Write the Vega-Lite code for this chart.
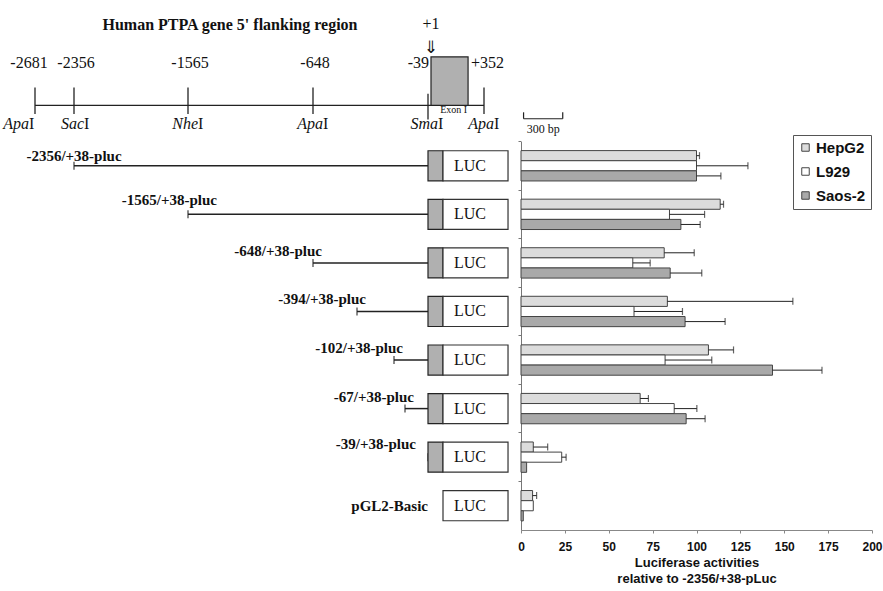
{
  "$schema": "https://vega.github.io/schema/vega-lite/v6.json",
  "width": 883,
  "height": 530,
  "padding": 0,
  "autosize": {"type": "pad"},
  "background": "white",
  "config": {"view": {"stroke": null}, "text": {"font": "Liberation Serif", "color": "#111"}},
  "datasets": {
    "sites": [
      {"pos": -2681, "label": "-2681", "enzyme": "Apa"},
      {"pos": -2356, "label": "-2356", "enzyme": "Sac"},
      {"pos": -1565, "label": "-1565", "enzyme": "Nhe"},
      {"pos": -648, "label": "-648", "enzyme": "Apa"},
      {"pos": -39, "label": "-39", "enzyme": "Sma"},
      {"pos": 352, "label": "+352", "enzyme": "Apa"}
    ],
    "constructs": [
      {"construct": "-2356/+38-pluc", "start": -2356},
      {"construct": "-1565/+38-pluc", "start": -1565},
      {"construct": "-648/+38-pluc", "start": -648},
      {"construct": "-394/+38-pluc", "start": -394},
      {"construct": "-102/+38-pluc", "start": -102},
      {"construct": "-67/+38-pluc", "start": -67},
      {"construct": "-39/+38-pluc", "start": -39},
      {"construct": "pGL2-Basic", "start": null}
    ],
    "activity": [
      {"construct": "-2356/+38-pluc", "cell": "HepG2", "value": 100, "upper": 101.7},
      {"construct": "-2356/+38-pluc", "cell": "L929", "value": 100, "upper": 129.3},
      {"construct": "-2356/+38-pluc", "cell": "Saos-2", "value": 100, "upper": 113.9},
      {"construct": "-1565/+38-pluc", "cell": "HepG2", "value": 113.5, "upper": 115.4},
      {"construct": "-1565/+38-pluc", "cell": "L929", "value": 84.6, "upper": 104.6},
      {"construct": "-1565/+38-pluc", "cell": "Saos-2", "value": 91.1, "upper": 102.1},
      {"construct": "-648/+38-pluc", "cell": "HepG2", "value": 81.6, "upper": 98.7},
      {"construct": "-648/+38-pluc", "cell": "L929", "value": 63.7, "upper": 73.6},
      {"construct": "-648/+38-pluc", "cell": "Saos-2", "value": 85, "upper": 103},
      {"construct": "-394/+38-pluc", "cell": "HepG2", "value": 83.4, "upper": 154.9},
      {"construct": "-394/+38-pluc", "cell": "L929", "value": 64.4, "upper": 92},
      {"construct": "-394/+38-pluc", "cell": "Saos-2", "value": 93.5, "upper": 116.3},
      {"construct": "-102/+38-pluc", "cell": "HepG2", "value": 106.8, "upper": 121.1},
      {"construct": "-102/+38-pluc", "cell": "L929", "value": 82.1, "upper": 108.7},
      {"construct": "-102/+38-pluc", "cell": "Saos-2", "value": 143.3, "upper": 171.5},
      {"construct": "-67/+38-pluc", "cell": "HepG2", "value": 67.9, "upper": 72.6},
      {"construct": "-67/+38-pluc", "cell": "L929", "value": 87.3, "upper": 100.2},
      {"construct": "-67/+38-pluc", "cell": "Saos-2", "value": 94.1, "upper": 104.9},
      {"construct": "-39/+38-pluc", "cell": "HepG2", "value": 7.0, "upper": 15.2},
      {"construct": "-39/+38-pluc", "cell": "L929", "value": 23.2, "upper": 25.7},
      {"construct": "-39/+38-pluc", "cell": "Saos-2", "value": 3.2, "upper": null},
      {"construct": "pGL2-Basic", "cell": "HepG2", "value": 6.6, "upper": 8.9},
      {"construct": "pGL2-Basic", "cell": "L929", "value": 7.0, "upper": null},
      {"construct": "pGL2-Basic", "cell": "Saos-2", "value": 1.3, "upper": null}
    ]
  },
  "resolve": {"scale": {"x": "independent", "y": "independent"}},
  "layer": [
    {
      "layer": [
        {
          "data": {"values": [{"from": -2681, "to": 352}]},
          "mark": {"type": "rule", "stroke": "#222", "strokeWidth": 1.3},
          "encoding": {
            "x": {"field": "from", "type": "quantitative", "axis": null,
                  "scale": {"type": "linear", "domain": [-2681, -2356, -1565, -648, -394, -102, -67, -39, 1, 38, 352], "range": [35, 74, 188, 313, 357, 394, 405, 428, 431, 443, 484], "nice": false, "zero": false}},
            "x2": {"field": "to"},
            "y": {"datum": -0.741, "type": "quantitative", "axis": null,
                  "scale": {"domain": [-2.912, 8], "reverse": true, "nice": false, "zero": false}}
          }
        },
        {
          "data": {"name": "sites"},
          "transform": [{"filter": "datum.enzyme != 'Sma'"}],
          "mark": {"type": "rule", "stroke": "#222", "strokeWidth": 1.3},
          "encoding": {
            "x": {"field": "pos", "type": "quantitative"},
            "y": {"datum": -1.111, "type": "quantitative"},
            "y2": {"datum": -0.566}
          }
        },
        {
          "data": {"name": "sites"},
          "transform": [{"filter": "datum.enzyme == 'Sma'"}],
          "mark": {"type": "rule", "stroke": "#222", "strokeWidth": 1.3},
          "encoding": {
            "x": {"field": "pos", "type": "quantitative"},
            "y": {"datum": -0.98, "type": "quantitative"},
            "y2": {"datum": -0.45}
          }
        },
        {
          "data": {"values": [{"name": "Exon I", "from": 1, "to": 230}]},
          "mark": {"type": "rect", "fill": "#b0b0b0", "stroke": "#222", "strokeWidth": 1.2},
          "encoding": {
            "x": {"field": "from", "type": "quantitative"},
            "x2": {"field": "to"},
            "y": {"datum": -1.739, "type": "quantitative"},
            "y2": {"datum": -0.741}
          }
        },
        {
          "data": {"values": [{"name": "Exon I", "from": 1, "to": 230}]},
          "mark": {"type": "text", "fontSize": 10, "baseline": "middle", "align": "center"},
          "encoding": {
            "x": {"datum": 120, "type": "quantitative"},
            "y": {"datum": -0.655, "type": "quantitative"},
            "text": {"field": "name"}
          }
        },
        {
          "data": {"name": "sites"},
          "transform": [{"filter": "datum.pos != -39 && datum.pos != -2681 && datum.pos != 352"}],
          "mark": {"type": "text", "fontSize": 16, "baseline": "middle", "align": "center", "dx": 2},
          "encoding": {
            "x": {"field": "pos", "type": "quantitative"},
            "y": {"datum": -1.616, "type": "quantitative"},
            "text": {"field": "label"}
          }
        },
        {
          "data": {"name": "sites"},
          "transform": [{"filter": "datum.pos == -2681"}],
          "mark": {"type": "text", "fontSize": 16, "baseline": "middle", "align": "center", "dx": -6},
          "encoding": {
            "x": {"field": "pos", "type": "quantitative"},
            "y": {"datum": -1.616, "type": "quantitative"},
            "text": {"field": "label"}
          }
        },
        {
          "data": {"name": "sites"},
          "transform": [{"filter": "datum.pos == 352"}],
          "mark": {"type": "text", "fontSize": 16, "baseline": "middle", "align": "left", "dx": -13},
          "encoding": {
            "x": {"field": "pos", "type": "quantitative"},
            "y": {"datum": -1.616, "type": "quantitative"},
            "text": {"field": "label"}
          }
        },
        {
          "data": {"name": "sites"},
          "transform": [{"filter": "datum.pos == -39"}],
          "mark": {"type": "text", "fontSize": 16, "baseline": "middle", "align": "right", "dx": 1},
          "encoding": {
            "x": {"field": "pos", "type": "quantitative"},
            "y": {"datum": -1.616, "type": "quantitative"},
            "text": {"field": "label"}
          }
        },
        {
          "data": {"name": "sites"},
          "transform": [{"filter": "datum.pos != -2681"}],
          "mark": {"type": "text", "fontSize": 16, "baseline": "middle", "align": "right", "dx": 10, "fontStyle": "italic"},
          "encoding": {
            "x": {"field": "pos", "type": "quantitative"},
            "y": {"datum": -0.36, "type": "quantitative"},
            "text": {"field": "enzyme"}
          }
        },
        {
          "data": {"name": "sites"},
          "transform": [{"filter": "datum.pos != -2681"}],
          "mark": {"type": "text", "fontSize": 16, "baseline": "middle", "align": "left", "dx": 10},
          "encoding": {
            "x": {"field": "pos", "type": "quantitative"},
            "y": {"datum": -0.36, "type": "quantitative"},
            "text": {"value": "I"}
          }
        },
        {
          "data": {"name": "sites"},
          "transform": [{"filter": "datum.pos == -2681"}],
          "mark": {"type": "text", "fontSize": 16, "baseline": "middle", "align": "right", "dx": -6, "fontStyle": "italic"},
          "encoding": {
            "x": {"field": "pos", "type": "quantitative"},
            "y": {"datum": -0.36, "type": "quantitative"},
            "text": {"field": "enzyme"}
          }
        },
        {
          "data": {"name": "sites"},
          "transform": [{"filter": "datum.pos == -2681"}],
          "mark": {"type": "text", "fontSize": 16, "baseline": "middle", "align": "left", "dx": -6},
          "encoding": {
            "x": {"field": "pos", "type": "quantitative"},
            "y": {"datum": -0.36, "type": "quantitative"},
            "text": {"value": "I"}
          }
        },
        {
          "data": {"values": [{"title": "Human PTPA gene 5' flanking region"}]},
          "mark": {"type": "text", "fontSize": 16, "fontWeight": "bold", "baseline": "middle", "align": "center"},
          "encoding": {
            "x": {"datum": -1257, "type": "quantitative"},
            "y": {"datum": -2.4, "type": "quantitative"},
            "text": {"field": "title"}
          }
        },
        {
          "data": {"values": [{"tss": 1, "label": "+1"}]},
          "mark": {"type": "text", "fontSize": 16, "baseline": "middle", "align": "center"},
          "encoding": {
            "x": {"field": "tss", "type": "quantitative"},
            "y": {"datum": -2.42, "type": "quantitative"},
            "text": {"field": "label"}
          }
        },
        {
          "data": {"values": [{"tss": 1, "label": "+1"}]},
          "mark": {"type": "text", "fontSize": 17, "baseline": "middle", "align": "center", "font": "DejaVu Sans", "fontWeight": "normal"},
          "encoding": {
            "x": {"field": "tss", "type": "quantitative"},
            "y": {"datum": -1.93, "type": "quantitative"},
            "text": {"value": "⇓"}
          }
        },
        {
          "data": {"values": [{"label": "300 bp"}]},
          "mark": {"type": "rule", "stroke": "#222", "strokeWidth": 1.2},
          "encoding": {
            "x": {"datum": 655, "type": "quantitative"},
            "x2": {"datum": 955},
            "y": {"datum": -0.467, "type": "quantitative"}
          }
        },
        {
          "data": {"values": [{"label": "300 bp"}]},
          "mark": {"type": "rule", "stroke": "#222", "strokeWidth": 1.2},
          "encoding": {
            "x": {"datum": 655, "type": "quantitative"},
            "y": {"datum": -0.6, "type": "quantitative"},
            "y2": {"datum": -0.467}
          }
        },
        {
          "data": {"values": [{"label": "300 bp"}]},
          "mark": {"type": "rule", "stroke": "#222", "strokeWidth": 1.2},
          "encoding": {
            "x": {"datum": 955, "type": "quantitative"},
            "y": {"datum": -0.6, "type": "quantitative"},
            "y2": {"datum": -0.467}
          }
        },
        {
          "data": {"values": [{"label": "300 bp"}]},
          "mark": {"type": "text", "fontSize": 12, "baseline": "middle", "align": "center"},
          "encoding": {
            "x": {"datum": 805, "type": "quantitative"},
            "y": {"datum": -0.257, "type": "quantitative"},
            "text": {"field": "label"}
          }
        }
      ]
    },
    {
      "data": {"name": "constructs"},
      "layer": [
        {
          "transform": [{"filter": "datum.start != null"}],
          "mark": {"type": "rule", "stroke": "#222", "strokeWidth": 1.5},
          "encoding": {
            "x": {"field": "start", "type": "quantitative", "axis": null,
                  "scale": {"type": "linear", "domain": [-2681, -2356, -1565, -648, -394, -102, -67, -39, 1, 38, 352], "range": [35, 74, 188, 313, 357, 394, 405, 428, 431, 443, 484], "nice": false, "zero": false}},
            "x2": {"datum": -39},
            "y": {"field": "construct", "type": "nominal", "axis": null, "sort": null,
                  "scale": {"domain": ["-2356/+38-pluc", "-1565/+38-pluc", "-648/+38-pluc", "-394/+38-pluc", "-102/+38-pluc", "-67/+38-pluc", "-39/+38-pluc", "pGL2-Basic"], "range": [141.5, 530], "paddingInner": 0, "paddingOuter": 0}}
          }
        },
        {
          "transform": [{"filter": "datum.start != null"}],
          "mark": {"type": "tick", "orient": "vertical", "color": "#222", "size": 8, "thickness": 1.5},
          "encoding": {
            "x": {"field": "start", "type": "quantitative"},
            "y": {"field": "construct", "type": "nominal"}
          }
        },
        {
          "transform": [{"filter": "datum.start != null"}],
          "mark": {"type": "bar", "fill": "#b0b0b0", "stroke": "#222", "strokeWidth": 1.2, "height": {"band": 0.62}},
          "encoding": {
            "x": {"datum": -39, "type": "quantitative"},
            "x2": {"datum": 38},
            "y": {"field": "construct", "type": "nominal"}
          }
        },
        {
          "mark": {"type": "bar", "fill": "white", "stroke": "#333", "strokeWidth": 1.2, "height": {"band": 0.62}},
          "encoding": {
            "x": {"datum": 38, "type": "quantitative"},
            "x2": {"datum": 536},
            "y": {"field": "construct", "type": "nominal"}
          }
        },
        {
          "mark": {"type": "text", "align": "left", "baseline": "middle", "dx": 11, "fontSize": 16},
          "encoding": {
            "x": {"datum": 38, "type": "quantitative"},
            "y": {"field": "construct", "type": "nominal"},
            "text": {"value": "LUC"}
          }
        },
        {
          "transform": [{"filter": "datum.construct == '-2356/+38-pluc'"}],
          "mark": {"type": "text", "align": "center", "baseline": "middle", "dy": -10, "fontSize": 15, "fontWeight": "bold"},
          "encoding": {
            "x": {"field": "start", "type": "quantitative"},
            "y": {"field": "construct", "type": "nominal"},
            "text": {"field": "construct"}
          }
        },
        {
          "transform": [{"filter": "datum.construct == '-1565/+38-pluc'"}],
          "mark": {"type": "text", "align": "right", "baseline": "middle", "dx": 29, "dy": -14, "fontSize": 15, "fontWeight": "bold"},
          "encoding": {
            "x": {"field": "start", "type": "quantitative"},
            "y": {"field": "construct", "type": "nominal"},
            "text": {"field": "construct"}
          }
        },
        {
          "transform": [{"filter": "indexof(['-648/+38-pluc','-394/+38-pluc','-102/+38-pluc','-67/+38-pluc'], datum.construct) >= 0"}],
          "mark": {"type": "text", "align": "right", "baseline": "middle", "dx": 9, "dy": -12, "fontSize": 15, "fontWeight": "bold"},
          "encoding": {
            "x": {"field": "start", "type": "quantitative"},
            "y": {"field": "construct", "type": "nominal"},
            "text": {"field": "construct"}
          }
        },
        {
          "transform": [{"filter": "datum.construct == '-39/+38-pluc'"}],
          "mark": {"type": "text", "align": "right", "baseline": "middle", "dx": -12, "dy": -13, "fontSize": 15, "fontWeight": "bold"},
          "encoding": {
            "x": {"field": "start", "type": "quantitative"},
            "y": {"field": "construct", "type": "nominal"},
            "text": {"field": "construct"}
          }
        },
        {
          "transform": [{"filter": "datum.start == null"}],
          "mark": {"type": "text", "align": "right", "baseline": "middle", "dx": -15, "fontSize": 15, "fontWeight": "bold"},
          "encoding": {
            "x": {"datum": 38, "type": "quantitative"},
            "y": {"field": "construct", "type": "nominal"},
            "text": {"field": "construct"}
          }
        }
      ]
    },
    {
      "data": {"name": "activity"},
      "encoding": {
        "y": {"field": "construct", "type": "nominal", "sort": null,
              "scale": {"domain": ["-2356/+38-pluc", "-1565/+38-pluc", "-648/+38-pluc", "-394/+38-pluc", "-102/+38-pluc", "-67/+38-pluc", "-39/+38-pluc", "pGL2-Basic"], "range": [141.5, 530], "paddingInner": 0, "paddingOuter": 0},
              "axis": {"orient": "left", "offset": -521, "labels": false, "ticks": true, "tickSize": 3, "bandPosition": 0, "domainColor": "#777", "tickColor": "#777", "title": null, "grid": false}},
        "yOffset": {"field": "cell", "type": "nominal",
                    "scale": {"domain": ["HepG2", "L929", "Saos-2"], "paddingInner": 0, "paddingOuter": 0.9}}
      },
      "layer": [
        {
          "mark": {"type": "bar", "stroke": "#444", "strokeWidth": 1},
          "encoding": {
            "x": {"field": "value", "type": "quantitative",
                  "scale": {"domain": [0, 200], "range": [521, 872], "nice": false, "zero": true},
                  "axis": {"orient": "bottom", "values": [0, 25, 50, 75, 100, 125, 150, 175, 200], "grid": false, "tickSize": 3, "domainColor": "#888", "tickColor": "#888", "labelFont": "Liberation Sans", "labelFontWeight": "bold", "labelFontSize": 12, "labelColor": "#111", "labelPadding": 8, "labelFlush": false, "labelOverlap": false,
                           "title": ["Luciferase activities", "relative to -2356/+38-pLuc"], "titleFont": "Liberation Sans", "titleFontWeight": "bold", "titleFontSize": 13, "titleColor": "#111", "titlePadding": 4, "titleLineHeight": 16}},
            "fill": {"field": "cell", "type": "nominal",
                     "scale": {"domain": ["HepG2", "L929", "Saos-2"], "range": ["#dcdcdc", "#ffffff", "#a9a9a9"]},
                     "legend": {"orient": "none", "legendX": 793, "legendY": 135, "title": null, "strokeColor": "#555", "fillColor": "white", "padding": 5, "symbolType": "square", "symbolSize": 56, "symbolStrokeColor": "#444", "symbolStrokeWidth": 1, "labelFont": "Liberation Sans", "labelFontWeight": "bold", "labelFontSize": 15, "labelColor": "#111", "rowPadding": 8, "labelOffset": 3}}
          }
        },
        {
          "transform": [{"filter": "datum.upper != null"}],
          "mark": {"type": "rule", "stroke": "#222", "strokeWidth": 1},
          "encoding": {
            "x": {"field": "value", "type": "quantitative"},
            "x2": {"field": "upper"}
          }
        },
        {
          "transform": [{"filter": "datum.upper != null"}],
          "mark": {"type": "tick", "orient": "vertical", "color": "#222", "size": 7, "thickness": 1.2},
          "encoding": {
            "x": {"field": "upper", "type": "quantitative"}
          }
        }
      ]
    }
  ]
}
